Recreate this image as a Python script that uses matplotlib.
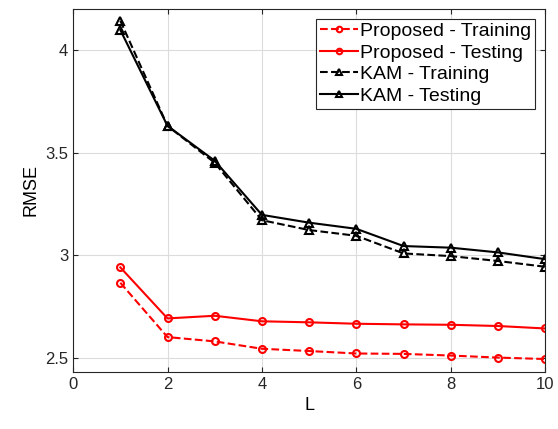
import matplotlib
matplotlib.use("Agg")
import matplotlib.pyplot as plt
import numpy as np

plt.rcParams['font.family'] = ['Liberation Sans', 'DejaVu Sans']

L = [1, 2, 3, 4, 5, 6, 7, 8, 9, 10]
prop_train = [2.865, 2.60, 2.579, 2.543, 2.532, 2.52, 2.518, 2.51, 2.50, 2.493]
prop_test = [2.94, 2.691, 2.704, 2.677, 2.672, 2.665, 2.662, 2.66, 2.654, 2.642]
kam_train = [4.143, 3.63, 3.45, 3.17, 3.122, 3.094, 3.008, 2.995, 2.971, 2.943]
kam_test = [4.098, 3.63, 3.46, 3.196, 3.158, 3.128, 3.044, 3.036, 3.013, 2.98]

fig = plt.figure(figsize=(5.58, 4.29), dpi=100)
ax = fig.add_axes([0.131, 0.133, 0.846, 0.846])

ax.plot(L, prop_train, '--o', color='red', lw=1.5, ms=5, mfc='none', mew=1.5, label='Proposed - Training')
ax.plot(L, prop_test, '-o', color='red', lw=1.5, ms=5, mfc='none', mew=1.5, label='Proposed - Testing')
ax.plot(L, kam_train, '--^', color='black', lw=1.5, ms=6, mfc='none', mew=1.5, label='KAM - Training')
ax.plot(L, kam_test, '-^', color='black', lw=1.5, ms=6, mfc='none', mew=1.5, label='KAM - Testing')

ax.set_xlim(0, 10)
ax.set_ylim(2.43, 4.2)
ax.set_xticks([0, 2, 4, 6, 8, 10])
ax.set_yticks([2.5, 3, 3.5, 4])
ax.set_yticklabels(['2.5', '3', '3.5', '4'])
ax.grid(True, color='#dcdcdc', lw=0.8)
ax.tick_params(direction='in', labelsize=12, top=True, right=True, colors='#262626')
for s in ax.spines.values():
    s.set_color('#262626')
ax.set_xlabel('L', fontsize=13)
ax.set_ylabel('RMSE', fontsize=13)

leg = ax.legend(loc='upper right', fontsize=14, fancybox=False, edgecolor='#262626',
                framealpha=1, handlelength=2.0, handletextpad=0.1, borderpad=0.2,
                labelspacing=0.2, borderaxespad=0.5, markerscale=0.8)
leg.get_frame().set_linewidth(0.8)

fig.savefig('out.png', dpi=100)
